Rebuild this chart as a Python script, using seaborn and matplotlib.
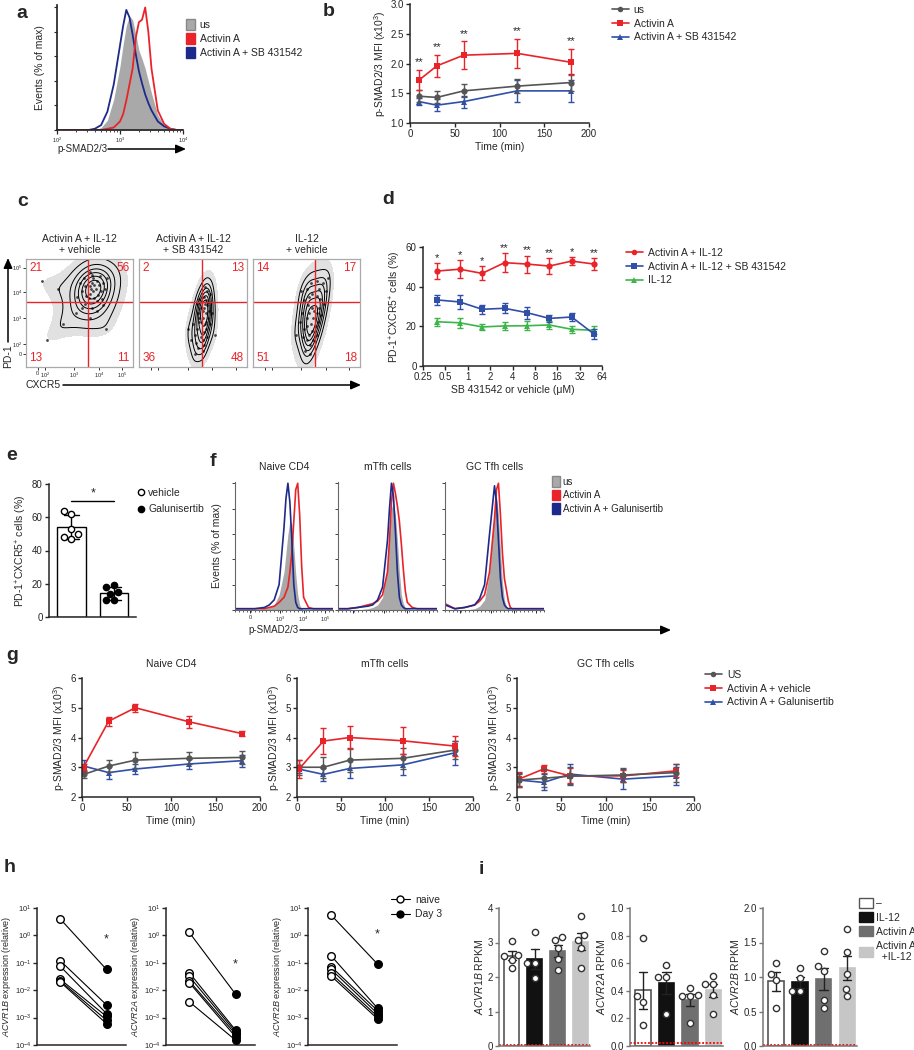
import numpy as np
import pandas as pd
import matplotlib
matplotlib.use("Agg")
import matplotlib.pyplot as plt
import seaborn as sns
from matplotlib.patches import Patch
from matplotlib.lines import Line2D

# ---------------- data ----------------
# a: histogram (log10 fluorescence, % of max)
a_logx = [2.0, 2.5, 2.6, 2.7, 2.8, 2.9, 3.0, 3.05, 3.1, 3.15, 3.2, 3.25, 3.3, 3.35, 3.4, 3.45, 3.5, 3.6, 3.7, 3.8, 3.9, 4.0]
a_us = [0, 0, 0, 2, 8, 25, 52, 70, 85, 93, 90, 78, 65, 58, 50, 40, 30, 12, 4, 1, 0, 0]
a_act = [0, 0, 0, 0, 1, 2, 7, 13, 24, 37, 50, 75, 88, 90, 100, 80, 50, 16, 5, 1, 0, 0]
a_sb = [0, 0, 1, 4, 15, 37, 69, 85, 98, 92, 78, 62, 48, 38, 29, 22, 16, 7, 3, 1, 0, 0]
a_labels = ["us", "Activin A", "Activin A + SB 431542"]

# b: p-SMAD2/3 MFI time course
b_time = [10, 30, 60, 120, 180]
b_us = [1.45, 1.43, 1.54, 1.62, 1.68]
b_us_err = [0.10, 0.10, 0.11, 0.12, 0.15]
b_act = [1.72, 1.96, 2.14, 2.17, 2.02]
b_act_err = [0.17, 0.18, 0.23, 0.25, 0.22]
b_sb = [1.36, 1.30, 1.36, 1.54, 1.54]
b_sb_err = [0.06, 0.10, 0.10, 0.18, 0.19]
b_stars = ["**", "**", "**", "**", "**"]

# c: flow events (axis fraction coordinates) and quadrant percentages
c_titles = ["Activin A + IL-12\n+ vehicle", "Activin A + IL-12\n+ SB 431542", "IL-12\n+ vehicle"]
c1_x = [0.60, 0.62, 0.65, 0.63, 0.60, 0.66, 0.68, 0.70, 0.62, 0.59, 0.64, 0.72, 0.67, 0.61, 0.63, 0.69, 0.74, 0.60, 0.66, 0.71, 0.76, 0.64,
        0.55, 0.52, 0.56, 0.50, 0.54, 0.48, 0.30, 0.15, 0.52, 0.47, 0.55, 0.35, 0.20, 0.62, 0.66, 0.72, 0.60, 0.75]
c1_y = [0.75, 0.78, 0.72, 0.70, 0.68, 0.80, 0.76, 0.70, 0.85, 0.64, 0.64, 0.78, 0.67, 0.72, 0.82, 0.84, 0.72, 0.88, 0.61, 0.63, 0.82, 0.76,
        0.75, 0.70, 0.66, 0.78, 0.82, 0.65, 0.72, 0.80, 0.55, 0.50, 0.58, 0.40, 0.25, 0.55, 0.52, 0.57, 0.45, 0.35]
c2_x = [0.60, 0.63, 0.62, 0.66, 0.61, 0.56, 0.55, 0.56, 0.54, 0.57, 0.52, 0.53, 0.55, 0.56, 0.50, 0.57, 0.54, 0.48, 0.52, 0.45,
        0.60, 0.62, 0.59, 0.63, 0.61, 0.64, 0.60, 0.62, 0.65, 0.59, 0.61, 0.66, 0.63, 0.60, 0.68, 0.62, 0.59, 0.64, 0.70, 0.59]
c2_y = [0.65, 0.70, 0.62, 0.68, 0.74, 0.63, 0.50, 0.42, 0.35, 0.55, 0.30, 0.22, 0.18, 0.45, 0.40, 0.28, 0.58, 0.25, 0.12, 0.35,
        0.55, 0.50, 0.45, 0.57, 0.40, 0.45, 0.32, 0.35, 0.52, 0.25, 0.58, 0.40, 0.28, 0.20, 0.50, 0.42, 0.52, 0.60, 0.30, 0.15]
c3_x = [0.52, 0.50, 0.55, 0.48, 0.54, 0.45, 0.60, 0.62, 0.65, 0.60, 0.68, 0.63, 0.70,
        0.55, 0.52, 0.50, 0.54, 0.48, 0.52, 0.50, 0.53, 0.49, 0.56, 0.46, 0.51, 0.55, 0.47, 0.53, 0.44, 0.57, 0.50, 0.40, 0.56,
        0.60, 0.62, 0.61, 0.64, 0.60, 0.66, 0.59]
c3_y = [0.65, 0.72, 0.68, 0.62, 0.78, 0.70, 0.66, 0.72, 0.78, 0.80, 0.70, 0.63, 0.82,
        0.55, 0.50, 0.45, 0.40, 0.35, 0.30, 0.25, 0.20, 0.15, 0.45, 0.50, 0.57, 0.33, 0.28, 0.12, 0.42, 0.52, 0.38, 0.30, 0.25,
        0.50, 0.55, 0.42, 0.48, 0.30, 0.58, 0.38]
c_quads = [["21", "56", "13", "11"], ["2", "13", "36", "48"], ["14", "17", "51", "18"]]
c_ticks = [0.11, 0.18, 0.45, 0.68, 0.90]
c_xticklabels = ["0", "$10^2$", "$10^3$", "$10^4$", "$10^5$"]
c_yticks = [0.12, 0.21, 0.45, 0.69, 0.92]
c_yticklabels = ["0", "$10^2$", "$10^3$", "$10^4$", "$10^5$"]

# d: dose response
d_conc = [0.39, 0.78, 1.56, 3.13, 6.25, 12.5, 25, 50]
d_act = [47.9, 48.8, 46.7, 52.1, 51.4, 50.4, 52.9, 51.4]
d_act_err = [3.8, 4.4, 3.5, 4.8, 4.3, 4.0, 2.1, 3.2]
d_sb = [33.3, 32.3, 28.6, 29.1, 26.9, 24.0, 24.7, 16.1]
d_sb_err = [2.7, 3.6, 2.3, 2.6, 3.0, 1.9, 2.0, 2.4]
d_il12 = [22.3, 21.8, 19.7, 20.2, 20.3, 20.7, 18.5, 18.0]
d_il12_err = [2.1, 2.6, 1.5, 2.0, 2.3, 1.9, 1.7, 2.0]
d_stars = ["*", "*", "*", "**", "**", "**", "*", "**"]
d_ticks = [0.25, 0.5, 1, 2, 4, 8, 16, 32, 64]
d_ticklabels = ["0.25", "0.5", "1", "2", "4", "8", "16", "32", "64"]
d_labels = ["Activin A + IL-12", "Activin A + IL-12 + SB 431542", "IL-12"]

# e: PD-1+CXCR5+ cells
e_vehicle = [62, 64, 53, 50, 47, 48]
e_galu = [19, 18, 14, 15, 10, 10]
e_groups = ["vehicle", "Galunisertib"]

# f: histograms (display position on biexponential axis, % of max)
f_x = [0, 0.1, 0.2, 0.3, 0.35, 0.4, 0.45, 0.5, 0.52, 0.54, 0.56, 0.58, 0.6, 0.62, 0.64, 0.66, 0.68, 0.7, 0.75, 0.8, 0.9, 1.0]
f_naive_us = [0, 0, 0, 1, 2, 4, 12, 30, 45, 60, 70, 68, 50, 28, 12, 4, 1, 0, 0, 0, 0, 0]
f_naive_act = [1, 1, 1, 1, 2, 3, 6, 10, 14, 18, 30, 45, 70, 95, 100, 75, 35, 10, 2, 1, 1, 1]
f_naive_gal = [1, 1, 1, 2, 4, 8, 20, 65, 88, 100, 85, 55, 20, 6, 2, 1, 1, 1, 1, 1, 1, 1]
f_mtfh_us = [0, 0, 0, 1, 2, 4, 10, 35, 60, 80, 85, 75, 55, 30, 12, 5, 2, 1, 0, 0, 0, 0]
f_mtfh_act = [1, 1, 2, 4, 5, 7, 12, 30, 55, 85, 100, 92, 82, 70, 52, 32, 15, 6, 2, 1, 1, 1]
f_mtfh_gal = [1, 1, 2, 3, 4, 8, 18, 55, 80, 100, 90, 62, 30, 10, 4, 2, 1, 1, 1, 1, 1, 1]
f_gc_us = [0, 0, 0, 1, 3, 8, 30, 78, 90, 75, 48, 22, 8, 3, 1, 0, 0, 0, 0, 0, 0, 0]
f_gc_act = [5, 1, 2, 4, 7, 12, 30, 72, 95, 100, 75, 45, 25, 16, 7, 2, 1, 1, 1, 1, 1, 1]
f_gc_gal = [4, 1, 2, 4, 9, 20, 60, 98, 85, 55, 25, 10, 4, 2, 1, 1, 1, 1, 1, 1, 1, 1]
f_ticks = [0.153, 0.46, 0.70, 0.92]
f_ticklabels = ["0", "$10^3$", "$10^4$", "$10^5$"]
f_labels = ["us", "Activin A", "Activin A + Galunisertib"]
cell_titles = ["Naive CD4", "mTfh cells", "GC Tfh cells"]

# g: p-SMAD2/3 MFI per subset
g_time = [2, 30, 60, 120, 180]
g_naive_us = [2.76, 3.04, 3.24, 3.30, 3.33]
g_naive_us_err = [0.12, 0.20, 0.27, 0.20, 0.22]
g_naive_act = [3.02, 4.55, 5.00, 4.53, 4.13]
g_naive_act_err = [0.10, 0.15, 0.14, 0.20, 0.09]
g_naive_gal = [3.04, 2.82, 2.94, 3.11, 3.22]
g_naive_gal_err = [0.20, 0.22, 0.17, 0.18, 0.20]
g_mtfh_us = [3.00, 3.00, 3.24, 3.30, 3.58]
g_mtfh_us_err = [0.25, 0.36, 0.40, 0.35, 0.30]
g_mtfh_act = [2.93, 3.88, 4.00, 3.89, 3.71]
g_mtfh_act_err = [0.30, 0.43, 0.38, 0.45, 0.33]
g_mtfh_gal = [2.94, 2.76, 2.96, 3.08, 3.49]
g_mtfh_gal_err = [0.15, 0.22, 0.33, 0.35, 0.40]
g_gc_us = [2.57, 2.63, 2.70, 2.74, 2.82]
g_gc_us_err = [0.20, 0.30, 0.30, 0.25, 0.30]
g_gc_act = [2.60, 2.94, 2.71, 2.71, 2.88]
g_gc_act_err = [0.25, 0.14, 0.25, 0.20, 0.22]
g_gc_gal = [2.57, 2.49, 2.77, 2.60, 2.71]
g_gc_gal_err = [0.25, 0.27, 0.33, 0.33, 0.30]
g_labels = ["US", "Activin A + vehicle", "Activin A + Galunisertib"]

# h: qPCR, naive vs day 3 (paired donors)
h_genes = ["ACVR1B", "ACVR2A", "ACVR2B"]
h_acvr1b_naive = [4.0, 0.12, 0.075, 0.025, 0.022, 0.020]
h_acvr1b_day3 = [0.057, 0.0029, 0.0014, 0.0011, 0.0008, 0.0006]
h_acvr2a_naive = [1.3, 0.044, 0.032, 0.022, 0.019, 0.0038]
h_acvr2a_day3 = [0.0072, 0.00035, 0.0003, 0.00025, 0.0002, 0.00015]
h_acvr2b_naive = [5.5, 0.18, 0.072, 0.057, 0.041, 0.033]
h_acvr2b_day3 = [0.09, 0.0022, 0.0018, 0.0014, 0.0011, 0.0009]

# i: RNA-seq RPKM
i_conds = ["–", "IL-12", "Activin A", "Activin A\n  +IL-12"]
i_acvr1b = [[3.05, 2.65, 2.6, 2.5, 2.27], [3.3, 2.42, 2.42, 1.96],
            [3.17, 3.06, 2.85, 2.52, 2.2], [3.76, 3.22, 3.06, 2.85, 2.25]]
i_acvr2a = [[0.78, 0.36, 0.32, 0.15], [0.59, 0.5, 0.5, 0.23],
            [0.42, 0.37, 0.36, 0.36, 0.17], [0.51, 0.45, 0.45, 0.37, 0.235]]
i_acvr2b = [[1.2, 1.04, 0.96, 0.55], [1.13, 0.98, 0.8, 0.8],
            [1.38, 1.16, 1.08, 0.67, 0.55], [1.7, 1.36, 1.04, 0.83, 0.72]]
i_thresh = [0.03, 0.024, 0.012]

# ---------------- style ----------------
sns.set_theme(style="ticks")
plt.rcParams["font.family"] = ["Liberation Sans", "DejaVu Sans"]
plt.rcParams["mathtext.fontset"] = "custom"
plt.rcParams["mathtext.rm"] = "Liberation Sans"
plt.rcParams["mathtext.it"] = "Liberation Sans:italic"
plt.rcParams["mathtext.bf"] = "Liberation Sans:bold"
plt.rcParams["axes.labelpad"] = 2

RED = "#e8242a"
BLUE = "#2f4fa8"
NAVY = "#1d2a8a"
GRAY = "#555555"
GREEN = "#3db54a"
HGRAY = "#a9a9a9"

W, H = 914, 1050
fig = plt.figure(figsize=(W / 100, H / 100), dpi=100)
ov = fig.add_axes([0, 0, 1, 1])
ov.set_xlim(0, W)
ov.set_ylim(H, 0)
ov.axis("off")


def box(x0, y0, x1, y1):
    return fig.add_axes([x0 / W, 1 - y1 / H, (x1 - x0) / W, (y1 - y0) / H])


def prism(ax):
    sns.despine(ax=ax)
    ax.tick_params(length=3, width=1, labelsize=7, pad=1.5)
    for s in ("left", "bottom"):
        ax.spines[s].set_linewidth(1.1)


def arrow(x0, y0, x1, y1):
    ov.annotate("", xy=(x1, y1), xytext=(x0, y0),
                arrowprops=dict(arrowstyle="-|>,head_length=0.5,head_width=0.22",
                                color="black", lw=1.1, shrinkA=0, shrinkB=0))


def leg(handles, labels, x, y, **kw):
    opts = dict(loc="upper left", bbox_to_anchor=(x / W, 1 - y / H), frameon=False,
                fontsize=7.5, borderaxespad=0, borderpad=0, labelspacing=0.3, handletextpad=0.5)
    opts.update(kw)
    fig.legend(handles, labels, **opts)


def err_lines(ax, x, series):
    for vals, errs, col, mk in series:
        sns.lineplot(x=x, y=vals, color=col, marker=mk, markersize=4.5, markeredgewidth=0,
                     lw=1.2, ax=ax)
        ax.errorbar(x, vals, yerr=errs, fmt="none", ecolor=col, elinewidth=1, capsize=2.5, capthick=1)


for letter, x, y in [("a", 22, 14), ("b", 329, 11), ("c", 23, 202), ("d", 388, 200), ("e", 12, 455),
                     ("f", 213, 462), ("g", 12, 655), ("h", 10, 867), ("i", 481, 870)]:
    ov.text(x, y, letter, fontsize=14, fontweight="bold", ha="center", va="center")

# ---------------- a ----------------
ax = box(57, 5, 183, 130)
ax.set_xscale("log")
xa = np.power(10.0, a_logx)
ax.fill_between(xa, a_us, color=HGRAY, lw=0)
ax.plot(xa, a_sb, color=NAVY, lw=1.3)
ax.plot(xa, a_act, color=RED, lw=1.3)
ax.set_xlim(100, 1e4)
ax.set_ylim(0, 102)
sns.despine(ax=ax)
ax.set_yticks(range(0, 101, 20), labels=[])
ax.set_xticks([1e2, 1e3, 1e4], labels=["$10^2$", "$10^3$", "$10^4$"])
ax.tick_params(axis="y", length=2, width=0.8)
ax.tick_params(axis="x", which="major", length=3, width=0.9, labelsize=4, pad=1)
ax.tick_params(axis="x", which="minor", length=1.5, width=0.6)
ax.set_ylabel("Events (% of max)", fontsize=7.5, labelpad=3)
ov.text(57, 149, "p-SMAD2/3", fontsize=7, va="center", ha="left")
arrow(108, 149, 186, 149)
leg([Patch(fc=HGRAY, ec="#888888"), Patch(fc=RED, ec=RED), Patch(fc=NAVY, ec=NAVY)], a_labels, 186, 19,
    handlelength=0.9, handleheight=1.3, handletextpad=0.4, labelspacing=0.25)

# ---------------- b ----------------
ax = box(410, 4, 589, 123)
err_lines(ax, b_time, [(b_sb, b_sb_err, BLUE, "^"), (b_us, b_us_err, GRAY, "o"), (b_act, b_act_err, RED, "s")])
for t, v, e, s in zip(b_time, b_act, b_act_err, b_stars):
    ax.annotate(s, (t, v + e), xytext=(0, 2), textcoords="offset points", ha="center", va="bottom", fontsize=8)
ax.set_xlim(0, 200)
ax.set_ylim(1, 3)
ax.set_xticks([0, 50, 100, 150, 200])
ax.set_yticks([1.0, 1.5, 2.0, 2.5, 3.0], labels=["1.0", "1.5", "2.0", "2.5", "3.0"])
prism(ax)
ax.set_xlabel("Time (min)", fontsize=7.5)
ax.set_ylabel("p-SMAD2/3 MFI (x10$^3$)", fontsize=7.5)
leg([Line2D([0], [0], color=c, marker=m, ms=4, mew=0, lw=1.2) for c, m in [(GRAY, "o"), (RED, "s"), (BLUE, "^")]],
    ["us", "Activin A", "Activin A + SB 431542"], 612, 5, handlelength=1.6, labelspacing=0.35)

# ---------------- c ----------------
c_boxes = [(26, 259, 133, 367), (139, 259, 247, 367), (253, 259, 360, 367)]
c_pts = [(c1_x, c1_y), (c2_x, c2_y), (c3_x, c3_y)]
for k in range(3):
    ax = box(*c_boxes[k])
    xs, ys = c_pts[k]
    sns.kdeplot(x=xs, y=ys, fill=True, levels=[0.1, 1], thresh=0.1, color="#888888", alpha=0.25,
                bw_adjust=1.6, ax=ax)
    sns.scatterplot(x=xs, y=ys, s=4, color="#444444", linewidth=0, ax=ax)
    sns.kdeplot(x=xs, y=ys, levels=7, thresh=0.15, color="black", linewidths=0.7, bw_adjust=1.25, ax=ax)
    ax.axvline(0.58, color=RED, lw=1)
    ax.axhline(0.60, color=RED, lw=1)
    ax.set_xlim(0, 1)
    ax.set_ylim(0, 1)
    ax.set_xlabel("")
    ax.set_ylabel("")
    for s in ax.spines.values():
        s.set_color("#aaaaaa")
        s.set_linewidth(0.9)
    q = c_quads[k]
    for txt, tx, ty, ha, va in [(q[0], 0.03, 0.97, "left", "top"), (q[1], 0.97, 0.97, "right", "top"),
                                (q[2], 0.03, 0.03, "left", "bottom"), (q[3], 0.97, 0.03, "right", "bottom")]:
        ax.text(tx, ty, txt, color=RED, fontsize=8.5, ha=ha, va=va, transform=ax.transAxes)
    ax.set_title(c_titles[k], fontsize=7.5, pad=4, linespacing=1.15)
    if k == 0:
        ax.set_xticks(c_ticks, labels=c_xticklabels)
        ax.set_yticks(c_yticks, labels=c_yticklabels)
    else:
        ax.set_xticks(c_ticks, labels=[])
        ax.set_yticks([])
    ax.tick_params(length=2, width=0.7, labelsize=4, pad=1, color="#333333")
ov.text(8, 356, "PD-1", rotation=90, fontsize=7.5, ha="center", va="center")
arrow(8, 342, 8, 258)
ov.text(25, 385, "CXCR5", fontsize=7.5, ha="left", va="center")
arrow(63, 385, 361, 385)

# ---------------- d ----------------
ax = box(423, 247, 602, 366)
ax.set_xscale("log", base=2)
err_lines(ax, d_conc, [(d_il12, d_il12_err, GREEN, "^"), (d_sb, d_sb_err, BLUE, "s"), (d_act, d_act_err, RED, "o")])
for c, v, e, s in zip(d_conc, d_act, d_act_err, d_stars):
    ax.annotate(s, (c, v + e), xytext=(0, 0), textcoords="offset points", ha="center", va="bottom", fontsize=8)
ax.set_xlim(0.25, 64)
ax.set_ylim(0, 60)
ax.set_xticks(d_ticks, labels=d_ticklabels)
ax.minorticks_off()
ax.set_yticks([0, 20, 40, 60])
prism(ax)
ax.set_xlabel("SB 431542 or vehicle (μM)", fontsize=7.5)
ax.set_ylabel("PD-1$^{+}$CXCR5$^{+}$ cells (%)", fontsize=7.5)
leg([Line2D([0], [0], color=c, marker=m, ms=4, mew=0, lw=1.2) for c, m in [(RED, "o"), (BLUE, "s"), (GREEN, "^")]],
    d_labels, 626, 248, handlelength=1.6, labelspacing=0.35)

# ---------------- e ----------------
ax = box(49, 484, 136, 617)
e_df = pd.DataFrame({"group": [e_groups[0]] * len(e_vehicle) + [e_groups[1]] * len(e_galu),
                     "value": e_vehicle + e_galu})
sns.barplot(data=e_df, x="group", y="value", order=e_groups, errorbar="sd", color="white", edgecolor="black",
            linewidth=1, width=0.68, capsize=0.35, err_kws={"color": "black", "linewidth": 1}, ax=ax)
sns.swarmplot(data=e_df[e_df.group == e_groups[0]], x="group", y="value", order=e_groups, color="white",
              edgecolor="black", linewidth=1, size=4.5, ax=ax)
sns.swarmplot(data=e_df[e_df.group == e_groups[1]], x="group", y="value", order=e_groups, color="black",
              edgecolor="black", linewidth=1, size=4.5, ax=ax)
ax.plot([0, 1], [70, 70], color="black", lw=1)
ax.text(0.5, 70.5, "*", ha="center", va="bottom", fontsize=9)
ax.set_xlim(-0.53, 1.52)
ax.set_ylim(0, 80)
ax.set_yticks([0, 20, 40, 60, 80])
prism(ax)
ax.set_xticks([])
ax.set_xlabel("")
ax.set_ylabel("PD-1$^{+}$CXCR5$^{+}$ cells (%)", fontsize=7.5)
leg([Line2D([0], [0], ls="", marker="o", mfc="white", mec="black", ms=4.5),
     Line2D([0], [0], ls="", marker="o", mfc="black", mec="black", ms=4.5)],
    e_groups, 137, 488, handlelength=0.8, handletextpad=0.3, labelspacing=0.6)

# ---------------- f ----------------
f_boxes = [(235, 482, 333, 610), (338, 482, 437, 610), (445, 482, 544, 610)]
f_curves = [(f_naive_us, f_naive_act, f_naive_gal), (f_mtfh_us, f_mtfh_act, f_mtfh_gal),
            (f_gc_us, f_gc_act, f_gc_gal)]
for k in range(3):
    ax = box(*f_boxes[k])
    us, act, gal = f_curves[k]
    ax.fill_between(f_x, us, color=HGRAY, lw=0)
    ax.plot(f_x, act, color=RED, lw=1.2)
    ax.plot(f_x, gal, color=NAVY, lw=1.2)
    ax.set_xlim(0, 1)
    ax.set_ylim(0, 101)
    sns.despine(ax=ax)
    for s in ("left", "bottom"):
        ax.spines[s].set_color("#666666")
        ax.spines[s].set_linewidth(0.8)
    ax.set_yticks(range(0, 101, 20), labels=[])
    ax.set_xticks(f_ticks, labels=f_ticklabels if k == 0 else [])
    ax.set_xticks(np.linspace(0, 1, 26), minor=True)
    ax.tick_params(axis="y", length=2, width=0.6)
    ax.tick_params(axis="x", which="major", length=2.5, width=0.7, labelsize=4, pad=1)
    ax.tick_params(axis="x", which="minor", length=1.3, width=0.5)
    ax.set_title(cell_titles[k], fontsize=7.5, pad=9)
    if k == 0:
        ax.set_ylabel("Events (% of max)", fontsize=7.5, labelpad=4)
ov.text(248, 630, "p-SMAD2/3", fontsize=7, va="center", ha="left")
arrow(300, 630, 671, 630)
leg([Patch(fc=HGRAY, ec="#888888"), Patch(fc=RED, ec=RED), Patch(fc=NAVY, ec=NAVY)], f_labels, 552, 476,
    handlelength=0.8, handleheight=1.3, handletextpad=0.3, labelspacing=0.3, fontsize=7)

# ---------------- g ----------------
g_boxes = [(82, 678, 260, 797), (297, 678, 473, 797), (517, 678, 694, 797)]
g_sets = [[(g_naive_gal, g_naive_gal_err, BLUE, "^"), (g_naive_us, g_naive_us_err, GRAY, "o"),
           (g_naive_act, g_naive_act_err, RED, "s")],
          [(g_mtfh_gal, g_mtfh_gal_err, BLUE, "^"), (g_mtfh_us, g_mtfh_us_err, GRAY, "o"),
           (g_mtfh_act, g_mtfh_act_err, RED, "s")],
          [(g_gc_gal, g_gc_gal_err, BLUE, "^"), (g_gc_act, g_gc_act_err, RED, "s"),
           (g_gc_us, g_gc_us_err, GRAY, "o")]]
for k in range(3):
    ax = box(*g_boxes[k])
    err_lines(ax, g_time, g_sets[k])
    ax.set_xlim(0, 200)
    ax.set_ylim(2, 6)
    ax.set_xticks([0, 50, 100, 150, 200])
    ax.set_yticks([2, 3, 4, 5, 6])
    prism(ax)
    ax.set_title(cell_titles[k], fontsize=7.5, pad=8)
    ax.set_xlabel("Time (min)", fontsize=7.5)
    ax.set_ylabel("p-SMAD2/3 MFI (x10$^3$)", fontsize=7.5)
leg([Line2D([0], [0], color=c, marker=m, ms=4, mew=0, lw=1.2) for c, m in [(GRAY, "o"), (RED, "s"), (BLUE, "^")]],
    g_labels, 705, 670, handlelength=1.6, labelspacing=0.35)

# ---------------- h ----------------
h_boxes = [(37, 908, 126, 1045), (166, 908, 255, 1045), (308, 908, 397, 1045)]
h_sets = [(h_acvr1b_naive, h_acvr1b_day3), (h_acvr2a_naive, h_acvr2a_day3), (h_acvr2b_naive, h_acvr2b_day3)]
for k in range(3):
    ax = box(*h_boxes[k])
    ax.set_yscale("log")
    naive, day3 = h_sets[k]
    n = len(naive)
    df = pd.DataFrame({"pair": list(range(n)) * 2, "pos": [0] * n + [1] * n, "value": naive + day3})
    sns.lineplot(data=df, x="pos", y="value", units="pair", estimator=None, color="black", lw=0.8, ax=ax)
    sns.scatterplot(data=df[df.pos == 0], x="pos", y="value", color="white", edgecolor="black", linewidth=1,
                    s=30, zorder=3, ax=ax)
    sns.scatterplot(data=df[df.pos == 1], x="pos", y="value", color="black", edgecolor="black", linewidth=1,
                    s=30, zorder=3, ax=ax)
    ax.text(1, max(day3) * 12, "*", ha="center", va="center", fontsize=9)
    ax.set_xlim(-0.5, 1.42)
    ax.set_ylim(1e-4, 10)
    ax.set_yticks([1e-4, 1e-3, 1e-2, 1e-1, 1, 10],
                  labels=["$10^{-4}$", "$10^{-3}$", "$10^{-2}$", "$10^{-1}$", "$10^{0}$", "$10^{1}$"])
    ax.minorticks_off()
    prism(ax)
    ax.tick_params(labelsize=5.5, pad=1)
    ax.set_xticks([])
    ax.set_xlabel("")
    ax.set_ylabel(r"$\it{" + h_genes[k] + "}$ expression (relative)", fontsize=6.5, labelpad=1)
leg([Line2D([0], [0], color="black", lw=0.8, marker="o", mfc="white", mec="black", ms=5),
     Line2D([0], [0], color="black", lw=0.8, marker="o", mfc="black", mec="black", ms=5)],
    ["naive", "Day 3"], 391, 895, handlelength=1.8, labelspacing=0.4)

# ---------------- i ----------------
i_boxes = [(499, 908, 590, 1046), (630, 908, 723, 1046), (763, 908, 857, 1046)]
i_sets = [i_acvr1b, i_acvr2a, i_acvr2b]
i_fill = ["white", "#111111", "#6f6f6f", "#c6c6c6"]
i_edge = ["#555555", "#111111", "#6f6f6f", "#c6c6c6"]
i_yt = [([0, 1, 2, 3, 4], ["0", "1", "2", "3", "4"]),
        ([0, 0.2, 0.4, 0.6, 0.8, 1.0], ["0.0", "0.2", "0.4", "0.6", "0.8", "1.0"]),
        ([0, 0.5, 1.0, 1.5, 2.0], ["0.0", "0.5", "1.0", "1.5", "2.0"])]
for k in range(3):
    ax = box(*i_boxes[k])
    conds, vals = [], []
    for c, v in zip(i_conds, i_sets[k]):
        conds += [c] * len(v)
        vals += v
    df = pd.DataFrame({"cond": conds, "value": vals})
    sns.barplot(data=df, x="cond", y="value", hue="cond", order=i_conds, hue_order=i_conds, palette=i_fill,
                errorbar="se", capsize=0.35, width=0.65, linewidth=1.2, legend=False,
                err_kws={"color": "#222222", "linewidth": 1}, ax=ax)
    for p, ec in zip(ax.patches, i_edge):
        p.set_edgecolor(ec)
    sns.swarmplot(data=df, x="cond", y="value", order=i_conds, color="white", edgecolor="#333333",
                  linewidth=1, size=4.5, ax=ax)
    ax.axhline(i_thresh[k], color="red", ls=(0, (1, 1)), lw=1.3)
    ticks, labs = i_yt[k]
    ax.set_ylim(0, ticks[-1])
    ax.set_yticks(ticks, labels=labs)
    ax.set_xlim(-0.55, 3.41)
    prism(ax)
    for s in ("left", "bottom"):
        ax.spines[s].set_color("#777777")
    ax.tick_params(axis="y", color="#777777")
    ax.set_xticks([])
    ax.set_xlabel("")
    ax.set_ylabel(r"$\it{" + h_genes[k] + "}$ RPKM", fontsize=7.5)
leg([Patch(fc=f, ec=e) for f, e in zip(i_fill, i_edge)], i_conds, 859, 898,
    handlelength=1.3, handleheight=1.1, handletextpad=0.3, labelspacing=0.35, fontsize=7.5)

fig.savefig("out.png", dpi=100)
